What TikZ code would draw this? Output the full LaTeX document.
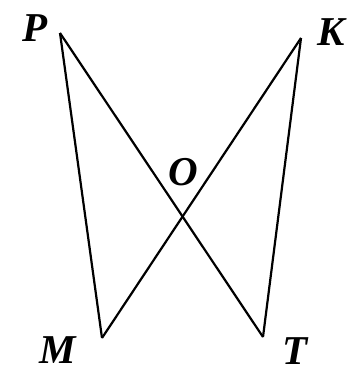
\documentclass[tikz,border=0pt]{standalone}
\usepackage{fontspec}
\setmainfont{Liberation Serif}
\begin{document}
\begin{tikzpicture}[x=1pt,y=1pt,
  lbl/.style={font=\fontsize{41}{44}\selectfont\bfseries\itshape, inner sep=0pt},
  seg/.style={line width=2.2pt, line join=miter}]
\useasboundingbox (0,0) rectangle (347,372);
\coordinate (P) at (60,339);
\coordinate (K) at (301,334);
\coordinate (M) at (102,34);
\coordinate (T) at (263,35);
\draw[seg] (P) -- (M);
\draw[seg] (P) -- (T);
\draw[seg] (K) -- (M);
\draw[seg] (K) -- (T);
\node[lbl] (lP) at (35,344) {P};
\node[lbl] (lK) at (331,340) {K};
\node[lbl] (lO) at (183,200) {O};
\node[lbl] (lM) at (58,22) {M};
\node[lbl] (lT) at (295,21) {T};
\end{tikzpicture}
\end{document}
